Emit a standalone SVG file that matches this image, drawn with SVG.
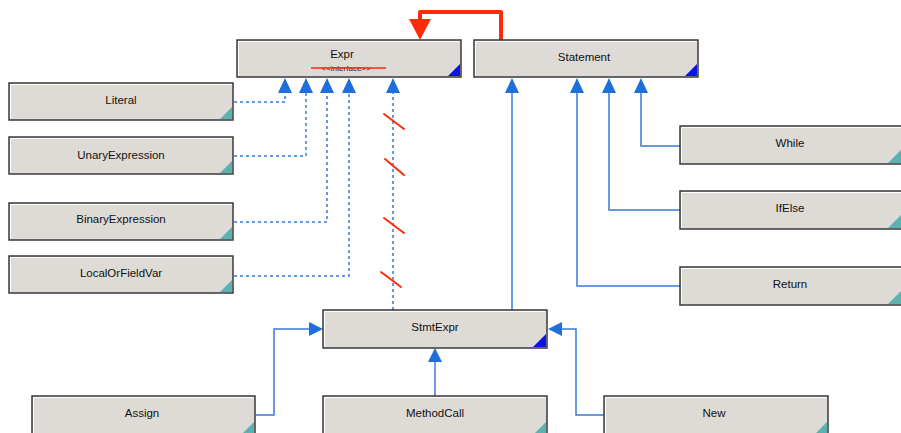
<svg xmlns="http://www.w3.org/2000/svg" width="901" height="433" viewBox="0 0 901 433">
<style>
.box{fill:#dedbd6;stroke:#3a3a3a;stroke-width:1.5}
.hl{fill:none;stroke:#ffffff;stroke-width:1}
.lbl{font-family:"Liberation Sans",Arial,sans-serif;font-size:11.5px;fill:#111;text-anchor:middle}
.stereo{font-family:"Liberation Sans",Arial,sans-serif;font-size:8px;fill:#222;text-anchor:middle}
.tc{fill:#5ab3b0}
.tb{fill:#0a14e8}
.solid{fill:none;stroke:#3a7ad8;stroke-width:1.5}
.dash{fill:none;stroke:#3a7ad8;stroke-width:1.5;stroke-dasharray:3 3}
.ah{fill:#1e6fdc}
.red{fill:none;stroke:#ff2a0a;stroke-width:2;stroke-linecap:round}
</style>
<rect width="901" height="433" fill="#ffffff"/>
<g id="connectors">
  <polyline class="dash" points="234,102 285,102 285,92"/>
  <polyline class="dash" points="234,156 306,156 306,92"/>
  <polyline class="dash" points="234,222 327,222 327,92"/>
  <polyline class="dash" points="234,276 349,276 349,92"/>
  <polyline class="dash" points="393,310 393,92"/>
  <line class="red" x1="384" y1="114" x2="404" y2="129"/>
  <line class="red" x1="385" y1="159" x2="404" y2="175"/>
  <line class="red" x1="384" y1="218" x2="404" y2="233"/>
  <line class="red" x1="381" y1="272" x2="401" y2="287"/>
  <polyline class="solid" points="512,310 512,92"/>
  <polyline class="solid" points="680,286 577,286 577,92"/>
  <polyline class="solid" points="680,210 609,210 609,92"/>
  <polyline class="solid" points="680,146 641,146 641,92"/>
  <polyline class="solid" points="256,415 274,415 274,329 311,329"/>
  <polyline class="solid" points="604,415 576,415 576,329 561,329"/>
  <polyline class="solid" points="435,396 435,361"/>
  <polygon class="ah" points="285,78 278,93 292,93"/>
  <polygon class="ah" points="306,78 299,93 313,93"/>
  <polygon class="ah" points="327,78 320,93 334,93"/>
  <polygon class="ah" points="349,78 342,93 356,93"/>
  <polygon class="ah" points="393,78 386,93 400,93"/>
  <polygon class="ah" points="512,78 505,93 519,93"/>
  <polygon class="ah" points="577,78 570,93 584,93"/>
  <polygon class="ah" points="609,78 602,93 616,93"/>
  <polygon class="ah" points="641,78 634,93 648,93"/>
  <polygon class="ah" points="323,329 309,322 309,336"/>
  <polygon class="ah" points="548,329 562,322 562,336"/>
  <polygon class="ah" points="435,348 428,362 442,362"/>
  <polyline points="501,40 501,12 420,12 420,22" fill="none" stroke="#ff2a0a" stroke-width="4" stroke-linejoin="round"/>
  <polygon points="409,19 431,19 420,40" fill="#ff2a0a"/>
</g>
<g id="node-expr">
  <rect class="box" x="237" y="40" width="224" height="37"/>
  <polyline class="hl" points="238.5,75.5 238.5,41.5 459.5,41.5"/>
  <polygon class="tb" points="460,64 460,76 448,76"/>
  <text class="lbl" x="342" y="58">Expr</text>
  <text class="stereo" x="346" y="71">&lt;&lt;interface&gt;&gt;</text>
  <line x1="311" y1="68" x2="386" y2="68" stroke="#ff2a0a" stroke-width="1.5"/>
</g>
<g id="node-statement">
  <rect class="box" x="474" y="40" width="224" height="37"/>
  <polyline class="hl" points="475.5,75.5 475.5,41.5 696.5,41.5"/>
  <polygon class="tb" points="697,64 697,76 685,76"/>
  <text class="lbl" x="584" y="61">Statement</text>
</g>
<g id="node-literal">
  <rect class="box" x="9" y="83" width="224" height="37"/>
  <polyline class="hl" points="10.5,118.5 10.5,84.5 231.5,84.5"/>
  <polygon class="tc" points="232,107 232,119 220,119"/>
  <text class="lbl" x="121" y="104">Literal</text>
</g>
<g id="node-unary">
  <rect class="box" x="9" y="137" width="224" height="37"/>
  <polyline class="hl" points="10.5,172.5 10.5,138.5 231.5,138.5"/>
  <polygon class="tc" points="232,161 232,173 220,173"/>
  <text class="lbl" x="121" y="159">UnaryExpression</text>
</g>
<g id="node-binary">
  <rect class="box" x="9" y="203" width="224" height="37"/>
  <polyline class="hl" points="10.5,238.5 10.5,204.5 231.5,204.5"/>
  <polygon class="tc" points="232,227 232,239 220,239"/>
  <text class="lbl" x="121" y="223">BinaryExpression</text>
</g>
<g id="node-localorfieldvar">
  <rect class="box" x="9" y="256" width="224" height="37"/>
  <polyline class="hl" points="10.5,291.5 10.5,257.5 231.5,257.5"/>
  <polygon class="tc" points="232,280 232,292 220,292"/>
  <text class="lbl" x="121" y="277">LocalOrFieldVar</text>
</g>
<g id="node-while">
  <rect class="box" x="680" y="126" width="224" height="38"/>
  <polyline class="hl" points="681.5,162.5 681.5,127.5 902,127.5"/>
  <polygon class="tc" points="901,150 901,163 888,163"/>
  <text class="lbl" x="790" y="147">While</text>
</g>
<g id="node-ifelse">
  <rect class="box" x="680" y="191" width="224" height="38"/>
  <polyline class="hl" points="681.5,227.5 681.5,192.5 902,192.5"/>
  <polygon class="tc" points="901,215 901,228 888,228"/>
  <text class="lbl" x="790" y="212">IfElse</text>
</g>
<g id="node-return">
  <rect class="box" x="680" y="267" width="224" height="38"/>
  <polyline class="hl" points="681.5,303.5 681.5,268.5 902,268.5"/>
  <polygon class="tc" points="901,291 901,304 888,304"/>
  <text class="lbl" x="790" y="288">Return</text>
</g>
<g id="node-stmtexpr">
  <rect class="box" x="323" y="310" width="224" height="38"/>
  <polyline class="hl" points="324.5,346.5 324.5,311.5 545.5,311.5"/>
  <polygon class="tb" points="546,334 546,347 533,347"/>
  <text class="lbl" x="435" y="331">StmtExpr</text>
</g>
<g id="node-assign">
  <rect class="box" x="32" y="396" width="223" height="40"/>
  <polyline class="hl" points="33.5,436 33.5,397.5 253.5,397.5"/>
  <polygon class="tc" points="254,422 254,434 242,434"/>
  <text class="lbl" x="142" y="417">Assign</text>
</g>
<g id="node-methodcall">
  <rect class="box" x="323" y="396" width="224" height="40"/>
  <polyline class="hl" points="324.5,436 324.5,397.5 545.5,397.5"/>
  <polygon class="tc" points="546,422 546,434 534,434"/>
  <text class="lbl" x="435" y="417">MethodCall</text>
</g>
<g id="node-new">
  <rect class="box" x="604" y="396" width="224" height="40"/>
  <polyline class="hl" points="605.5,436 605.5,397.5 826.5,397.5"/>
  <polygon class="tc" points="827,422 827,434 815,434"/>
  <text class="lbl" x="714" y="417">New</text>
</g>
</svg>
